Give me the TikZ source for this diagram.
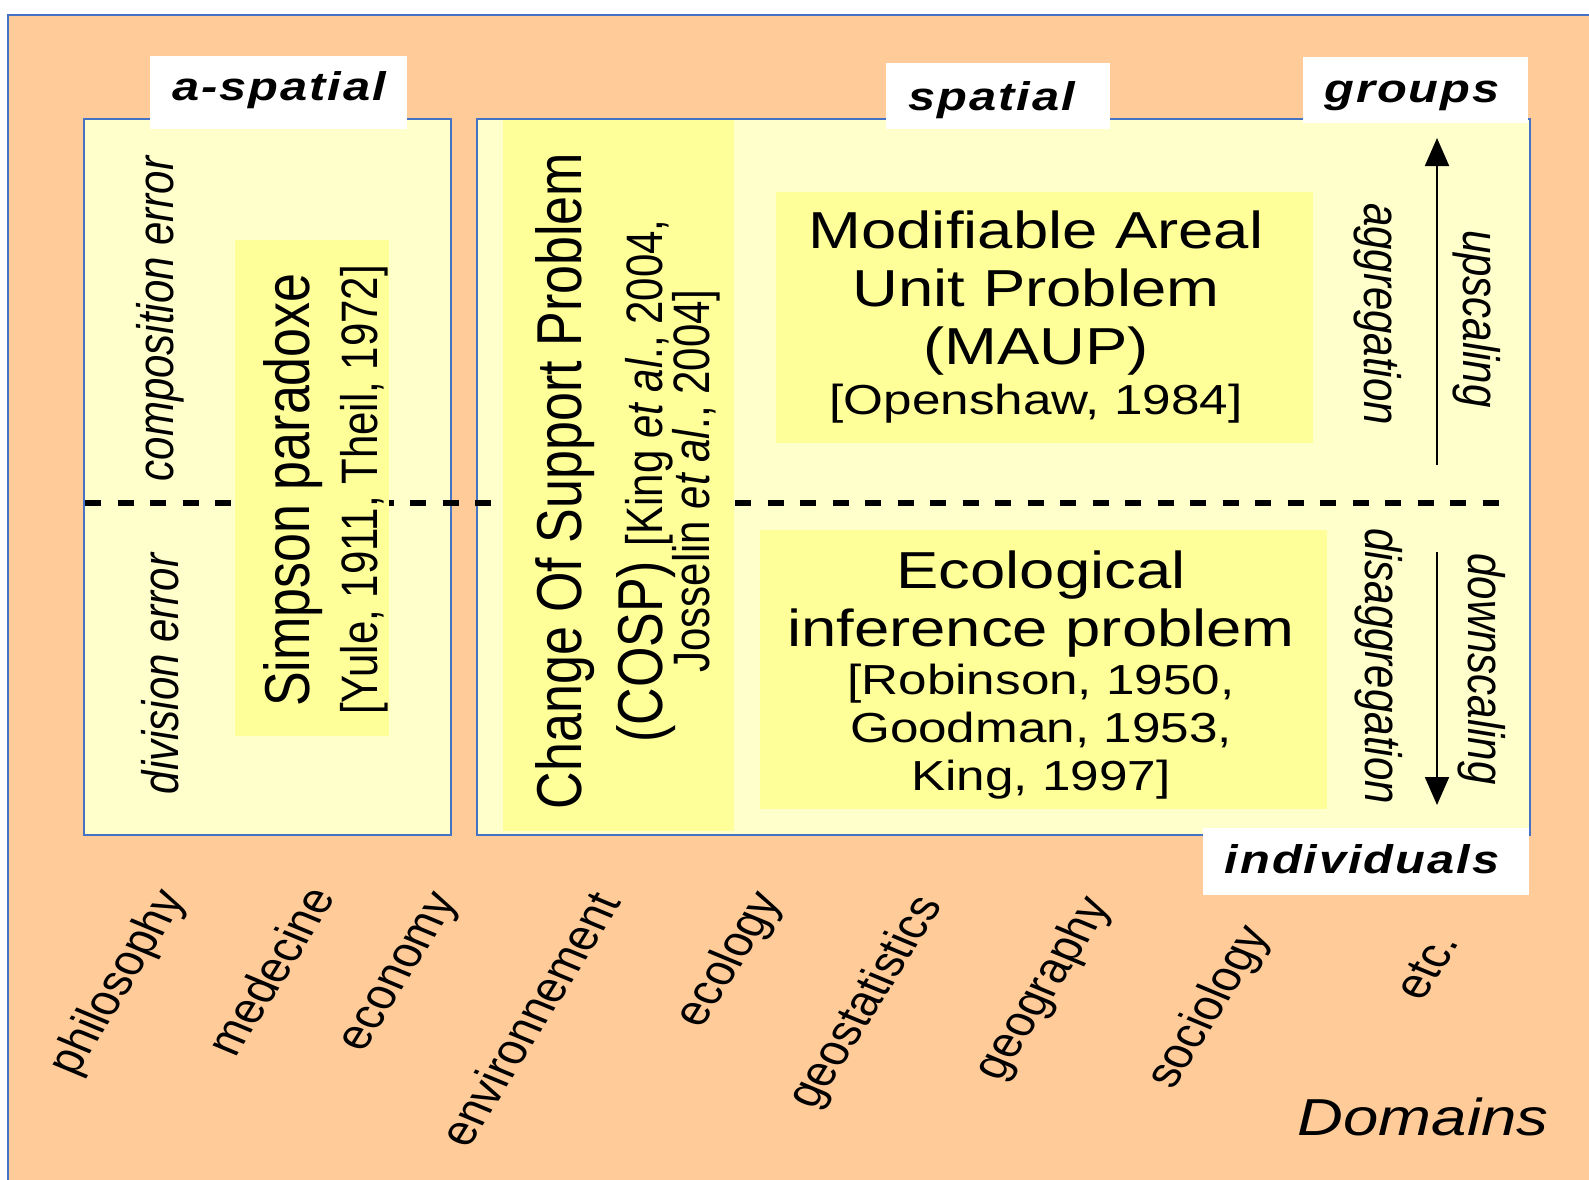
\documentclass[tikz,border=0pt]{standalone}
\usepackage{fontspec}
\setmainfont{Liberation Sans}
\newfontfamily\labelfam{Liberation Sans}[LetterSpace=4]
\usetikzlibrary{arrows.meta}
\definecolor{peach}{RGB}{255,204,153}
\definecolor{paleyel}{RGB}{255,255,204}
\definecolor{deepyel}{RGB}{255,255,153}
\definecolor{frameblue}{RGB}{70,114,196}
\newcommand\smallref{\fontsize{42}{48}\selectfont}
\tikzset{
  stretched/.style={xscale=1.22, inner sep=0pt, outer sep=0pt},
  big/.style={stretched, align=center, font=\fontsize{52}{58}\selectfont},
  tag/.style={stretched, anchor=base, font=\labelfam\bfseries\itshape\fontsize{40}{48}\selectfont},
  side/.style={stretched, font=\itshape\fontsize{42}{48}\selectfont},
  fieldname/.style={stretched, font=\fontsize{42}{48}\selectfont, rotate=63},
  panel/.style={fill=paleyel, draw=frameblue, line width=1.5pt},
  hot/.style={fill=deepyel},
  whitetag/.style={fill=white},
  sep/.style={line width=6pt, dash pattern=on 16pt off 16.5pt},
  flow/.style={line width=2pt, -{Triangle[width=24pt,length=28pt]}},
}
\begin{document}
\begin{tikzpicture}[x=1pt,y=-1pt]
\useasboundingbox (0,0) rectangle (1589,1179);
\clip (0,0) rectangle (1589,1179);
% background
\fill[peach] (8,15) rectangle (1600,1190);
\draw[frameblue, line width=1.5pt] (8,1190) -- (8,15) -- (1600,15);
% panels
\draw[panel] (84,119) rectangle (451,835);
\draw[panel] (477,119) rectangle (1530,835);
% separator
\coordinate (dashL) at (85,503);
\coordinate (dashR) at (1508,503);
\draw[sep] (dashL) -- (dashR);
% highlighted boxes
\fill[hot] (235,240) rectangle (389,736);
\fill[hot] (503,120) rectangle (734,831);
\fill[hot] (776,192) rectangle (1313,443);
\fill[hot] (760,530) rectangle (1327,809);
% white tags
\fill[whitetag] (150,56) rectangle (407,129);
\fill[whitetag] (886,63) rectangle (1110,129);
\fill[whitetag] (1303,57) rectangle (1528,123);
\fill[whitetag] (1203,828) rectangle (1529,895);
\node[tag] (aspatial) at (279,100) {a-spatial};
\node[tag] (spatial) at (992,110) {spatial};
\node[tag] (groups) at (1412,102) {groups};
\node[tag] (individuals) at (1362,873) {individuals};
% box texts
\node[big] (maup) at (1036,317) {Modifiable Areal\\Unit Problem\\(MAUP)\\[-8pt]{\smallref [Openshaw, 1984]}};
\node[big] (eco) at (1041,675) {Ecological\\inference problem\\[-10pt]{\smallref [Robinson, 1950,}\\[-10pt]{\smallref Goodman, 1953,}\\[-10pt]{\smallref King, 1997]}};
\node[big, rotate=90, font=\fontsize{52}{56}\selectfont] (simpson) at (326,490) {Simpson paradoxe\\{\smallref [Yule, 1911, Theil, 1972]}};
\node[big, rotate=90, font=\fontsize{52}{66}\selectfont] (cosp) at (628,481) {Change Of Support Problem\\(COSP) {\smallref [King \textit{et al}., 2004,}\\[-27pt]{\smallref Josselin \textit{et al}., 2004]}};
% side labels
\node[side, rotate=90] (comp) at (160,319) {composition error};
\node[side, rotate=90] (div) at (160,674) {division error};
\node[side, rotate=-90] (aggr) at (1378,314) {aggregation};
\node[side, rotate=-90] (ups) at (1477,319) {upscaling};
\node[side, rotate=-90] (disaggr) at (1379,666) {disaggregation};
\node[side, rotate=-90] (downs) at (1482,669) {downscaling};
% arrows
\coordinate (upTail) at (1437,465);
\coordinate (upTip) at (1437,138);
\coordinate (downTail) at (1437,552);
\coordinate (downTip) at (1437,805);
\draw[flow] (upTail) -- (upTip);
\draw[flow] (downTail) -- (downTip);
% domains
\node[fieldname] (philo) at (119,983) {philosophy};
\node[fieldname] (med) at (270,971) {medecine};
\node[fieldname] (econ) at (403,974) {economy};
\node[fieldname] (env) at (529,1019) {environnement};
\node[fieldname] (ecol) at (730,960) {ecology};
\node[fieldname] (geostat) at (867,1003) {geostatistics};
\node[fieldname] (geog) at (1044,989) {geography};
\node[fieldname] (socio) at (1210,1008) {sociology};
\node[fieldname] (etc) at (1427,966) {etc.};
\node[stretched, anchor=base, font=\itshape\fontsize{52}{60}\selectfont] (domains) at (1423,1135) {Domains};
\end{tikzpicture}
\end{document}
